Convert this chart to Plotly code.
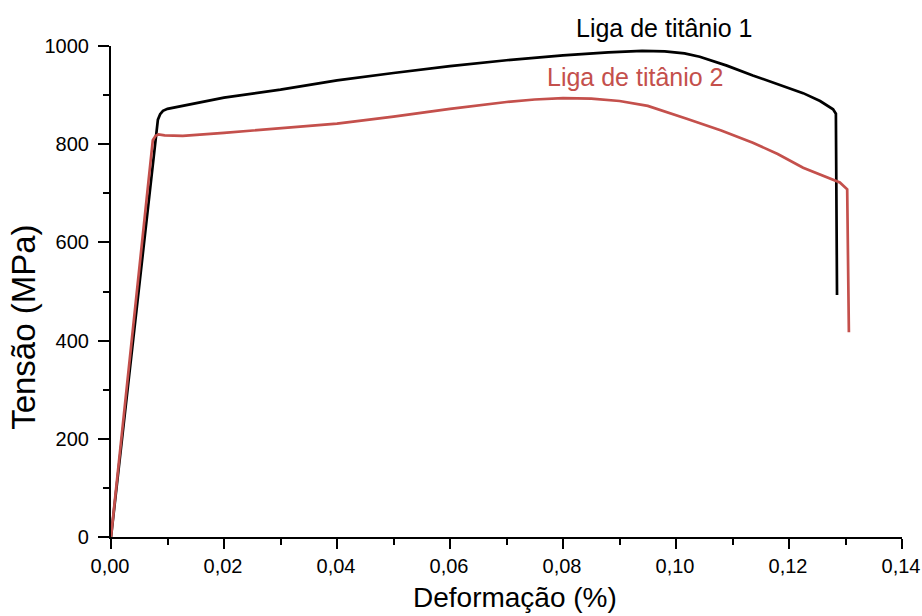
import plotly.graph_objects as go

# Liga de titânio 1 (black)
x1 = [0.0, 0.0057, 0.0083, 0.0087, 0.0092, 0.0100, 0.0127, 0.020, 0.030, 0.040, 0.050,
      0.060, 0.070, 0.080, 0.088, 0.094, 0.098, 0.1015, 0.1042, 0.109, 0.1136,
      0.118, 0.1225, 0.1255, 0.1278, 0.1283, 0.1285]
y1 = [0, 584, 850, 861, 868, 872, 878, 895, 911, 930, 945,
      959, 971, 981, 987, 990, 989, 985, 978, 960, 940,
      922, 904, 888, 871, 862, 493]

# Liga de titânio 2 (red)
x2 = [0.0, 0.0053, 0.0074, 0.0079, 0.0084, 0.0095, 0.0127, 0.020, 0.030, 0.040, 0.050,
      0.060, 0.070, 0.075, 0.080, 0.085, 0.090, 0.095, 0.1019, 0.108, 0.1136,
      0.118, 0.1225, 0.1265, 0.1290, 0.1303, 0.1306]
y2 = [0, 584, 808, 817, 820, 818, 817, 823, 832, 842, 856,
      872, 886, 891, 894, 893, 888, 878, 852, 828, 803,
      780, 752, 733, 722, 708, 417]

x_ticks = [0.0, 0.02, 0.04, 0.06, 0.08, 0.10, 0.12, 0.14]
y_ticks = [0, 200, 400, 600, 800, 1000]

RED = "#c4504c"
FONT = "Liberation Sans, Arial, sans-serif"

fig = go.Figure()
fig.add_trace(go.Scatter(x=x1, y=y1, mode="lines", line=dict(color="black", width=2.7),
                         showlegend=False, hoverinfo="skip"))
fig.add_trace(go.Scatter(x=x2, y=y2, mode="lines", line=dict(color=RED, width=2.7),
                         showlegend=False, hoverinfo="skip"))

axis_common = dict(showgrid=False, zeroline=False, showline=True, linecolor="black",
                   linewidth=2.2, ticks="outside", tickwidth=2, tickcolor="black",
                   tickfont=dict(family=FONT, size=20, color="black"), automargin=False)

fig.update_xaxes(range=[0, 0.14], tickvals=x_ticks, tickformat=".2f", ticklen=10,
                 ticklabelshift=-1,
                 minor=dict(dtick=0.01, ticks="outside", ticklen=6, tickwidth=2, tickcolor="black"),
                 **axis_common)
fig.update_yaxes(range=[0, 1000], tickvals=y_ticks, tickformat="d", ticklen=11,
                 ticklabelstandoff=5,
                 minor=dict(dtick=100, ticks="outside", ticklen=6, tickwidth=2, tickcolor="black"),
                 **axis_common)

fig.add_annotation(text="Liga de titânio 1", xref="paper", yref="paper", x=0.700, y=1.0367,
                   showarrow=False, font=dict(family=FONT, size=25, color="black"),
                   xanchor="center", yanchor="middle")
fig.add_annotation(text="Liga de titânio 2", xref="paper", yref="paper", x=0.663, y=0.937,
                   showarrow=False, font=dict(family=FONT, size=25, color=RED),
                   xanchor="center", yanchor="middle")
fig.add_annotation(text="Deformação (%)", xref="paper", yref="paper", x=0.511, y=-0.124,
                   showarrow=False, font=dict(family=FONT, size=28, color="black"),
                   xanchor="center", yanchor="middle")
fig.add_annotation(text="Tensão (MPa)", xref="paper", yref="paper", x=-0.110, y=0.428,
                   showarrow=False, textangle=-90, font=dict(family=FONT, size=33, color="black"),
                   xanchor="center", yanchor="middle")

fig.update_layout(width=922, height=616, separators=",.",
                  margin=dict(l=111, r=20, t=46, b=79, pad=0, autoexpand=False),
                  paper_bgcolor="white", plot_bgcolor="white")

fig.write_html("out.html", config={"displayModeBar": False},
               post_script="document.body.style.margin='0';document.body.style.overflow='hidden';")
